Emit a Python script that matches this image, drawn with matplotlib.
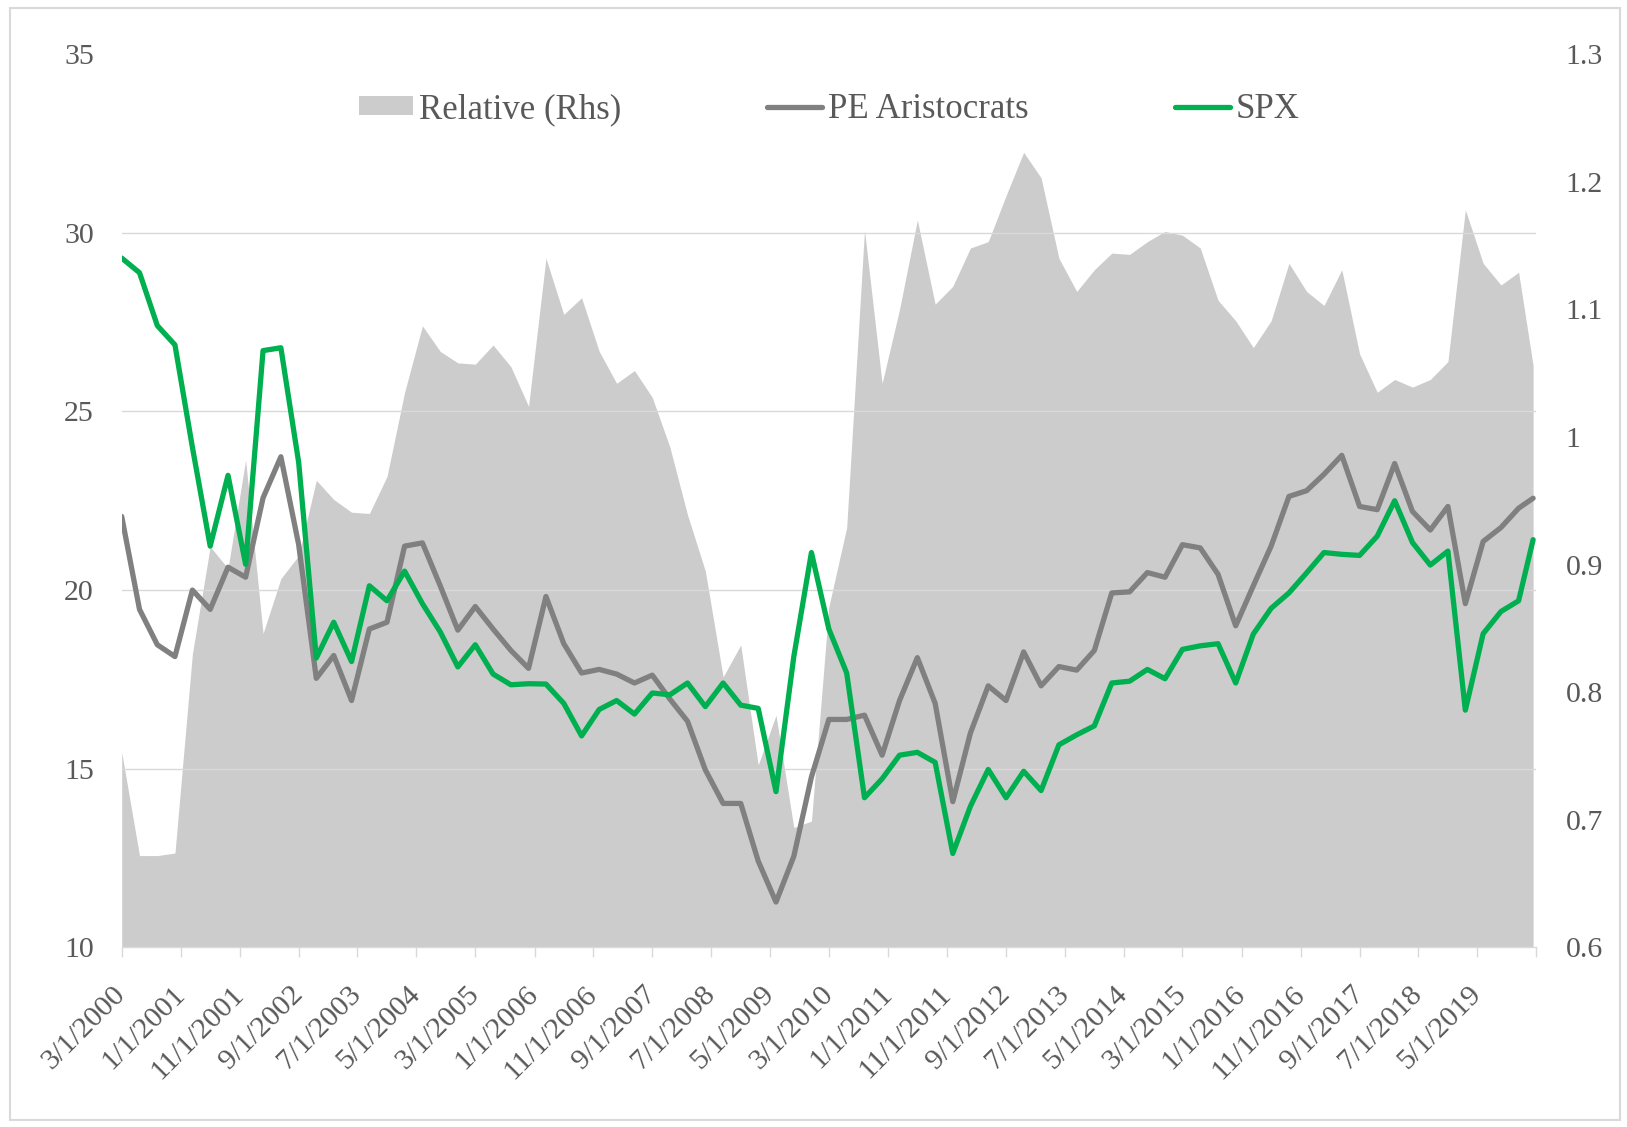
import numpy as np
import pandas as pd
import matplotlib
matplotlib.use("Agg")
import matplotlib.pyplot as plt
import matplotlib.dates as mdates
from matplotlib.ticker import FixedLocator
from matplotlib.patches import Patch, Rectangle
from matplotlib.lines import Line2D

# quarterly observations, last one is a partial quarter
dates = list(pd.date_range("2000-03-01", periods=80, freq="3MS")) + [pd.Timestamp("2020-02-14")]

spx = [29.29, 28.88, 27.40, 26.86, 24.00, 21.23, 23.21, 20.72, 26.70, 26.78,
       23.57, 18.10, 19.10, 18.00, 20.12, 19.70, 20.53, 19.62, 18.83, 17.85,
       18.47, 17.65, 17.35, 17.38, 17.37, 16.83, 15.92, 16.66, 16.91, 16.53,
       17.12, 17.07, 17.40, 16.74, 17.40, 16.78, 16.69, 14.36, 18.14, 21.05,
       18.91, 17.68, 14.19, 14.72, 15.38, 15.46, 15.18, 12.63, 13.95, 14.98,
       14.19, 14.93, 14.39, 15.67, 15.95, 16.20, 17.40, 17.45, 17.78, 17.52,
       18.34, 18.44, 18.50, 17.40, 18.77, 19.49, 19.92, 20.48, 21.05, 21.00,
       20.97, 21.51, 22.50, 21.33, 20.70, 21.09, 16.64, 18.78, 19.40, 19.70,
       21.41]

pe_aristocrats = [22.06, 19.46, 18.47, 18.14, 20.00, 19.46, 20.64, 20.36, 22.58, 23.73,
                  21.27, 17.53, 18.17, 16.91, 18.91, 19.10, 21.23, 21.32, 20.12, 18.88,
                  19.54, 18.91, 18.31, 17.81, 19.82, 18.50, 17.68, 17.78, 17.65, 17.40,
                  17.62, 16.95, 16.33, 14.97, 14.03, 14.03, 12.42, 11.27, 12.55, 14.77,
                  16.38, 16.38, 16.50, 15.38, 16.91, 18.11, 16.83, 14.08, 16.00, 17.32,
                  16.91, 18.27, 17.32, 17.86, 17.76, 18.31, 19.92, 19.95, 20.49, 20.36,
                  21.27, 21.18, 20.44, 19.00, 20.12, 21.23, 22.62, 22.78, 23.24, 23.77,
                  22.34, 22.25, 23.54, 22.20, 21.68, 22.34, 19.62, 21.36, 21.75, 22.29,
                  22.57]

relative = [0.753, 0.672, 0.672, 0.674, 0.830, 0.914, 0.897, 0.982, 0.846, 0.889,
            0.907, 0.966, 0.951, 0.941, 0.940, 0.969, 1.035, 1.087, 1.067, 1.058,
            1.057, 1.072, 1.055, 1.024, 1.140, 1.096, 1.109, 1.067, 1.042, 1.052,
            1.031, 0.992, 0.939, 0.895, 0.812, 0.837, 0.743, 0.782, 0.694, 0.699,
            0.867, 0.929, 1.162, 1.042, 1.100, 1.170, 1.104, 1.118, 1.148, 1.153,
            1.189, 1.223, 1.203, 1.140, 1.114, 1.131, 1.144, 1.143, 1.153, 1.161,
            1.158, 1.148, 1.107, 1.091, 1.070, 1.091, 1.136, 1.114, 1.103, 1.131,
            1.065, 1.035, 1.045, 1.039, 1.045, 1.059, 1.178, 1.136, 1.119, 1.129,
            1.056]

left_ticks = [10, 15, 20, 25, 30, 35]
right_ticks = [0.6, 0.7, 0.8, 0.9, 1.0, 1.1, 1.2, 1.3]
x_ticks = pd.date_range("2000-03-01", "2019-05-01", freq="10MS")
x_start, x_end = pd.Timestamp("2000-03-01"), pd.Timestamp("2020-03-01")

TXT = "#595959"
GRID = "#D9D9D9"
LW = 3.8
plt.rcParams["font.family"] = ["Liberation Serif", "DejaVu Serif"]

fig = plt.figure(figsize=(16.27, 11.27), dpi=100)
ax = fig.add_axes([0.0748, 0.1593, 0.8694, 0.7928])
axr = ax.twinx()
ax.set_zorder(axr.get_zorder() + 1)
ax.patch.set_visible(False)

# area on the right axis, semi transparent so gridlines show through
axr.fill_between(dates, relative, 0.6, color="black", alpha=0.2, lw=0)
axr.set_ylim(0.6, 1.3)
axr.set_yticks(right_ticks)
axr.set_yticklabels([f"{v:g}" for v in right_ticks])
axr.yaxis.set_minor_locator(FixedLocator(np.linspace(0.6, 1.3, len(left_ticks))))
axr.grid(which="minor", axis="y", color=GRID, lw=1.0)
axr.tick_params(axis="y", which="both", length=0, pad=21, labelsize=21.5, labelcolor=TXT)

ax.plot(dates, pe_aristocrats, color="#808080", lw=LW, solid_joinstyle="round", solid_capstyle="round")
ax.plot(dates, spx, color="#00B050", lw=LW, solid_joinstyle="round", solid_capstyle="round")
ax.set_ylim(10, 35)
ax.set_yticks(left_ticks)
ax.tick_params(axis="y", length=0, pad=20, labelsize=21.5, labelcolor=TXT)

ax.set_xlim(x_start, x_end)
ax.set_xticks(x_ticks)
ax.set_xticklabels([f"{d.month}/{d.day}/{d.year}" for d in x_ticks])
ax.xaxis.set_minor_locator(FixedLocator([mdates.date2num(x_end)]))
ax.tick_params(axis="x", which="both", length=7, width=1.0, color=GRID, direction="out",
               pad=24, labelsize=21.5, labelcolor=TXT)
for lab in ax.get_xticklabels():
    lab.set_rotation(45)
    lab.set_ha("right")
    lab.set_va("center")
    lab.set_rotation_mode("anchor")

for a in (ax, axr):
    for side in ("top", "left", "right"):
        a.spines[side].set_visible(False)
axr.spines["bottom"].set_visible(False)
ax.spines["bottom"].set_color(GRID)
ax.spines["bottom"].set_linewidth(1.0)

handles = [Patch(facecolor="#CCCCCC", edgecolor="none"),
           Line2D([], [], color="#808080", lw=LW, solid_capstyle="round"),
           Line2D([], [], color="#00B050", lw=LW, solid_capstyle="round")]
ax.legend(handles, ["Relative (Rhs)", "PE Aristocrats", "SPX"], loc="center",
          bbox_to_anchor=(0.5, 0.938), ncol=3, frameon=False, fontsize=25,
          handlelength=1.58, handleheight=0.46, handletextpad=0.17,
          columnspacing=4.2, labelcolor=TXT)

fig.add_artist(Rectangle((0.006, 0.006), 0.9897, 0.987, transform=fig.transFigure,
                         fill=False, edgecolor=GRID, lw=1.5))

fig.savefig("out.png", dpi=100)
